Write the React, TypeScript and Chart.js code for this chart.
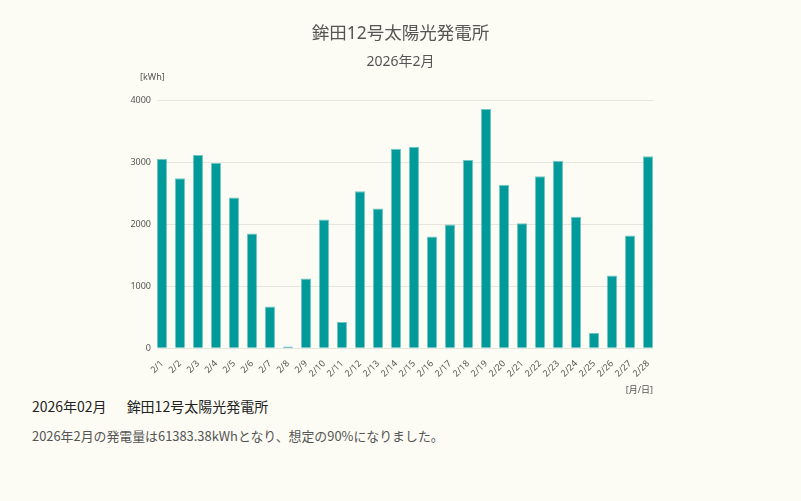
import { useEffect, useRef } from 'react';
import { Chart, registerables } from 'chart.js';

Chart.register(...registerables);

const chartTitle = '鉾田12号太陽光発電所';
const chartSubtitle = '2026年2月';
const dayLabels = [
  '2/1', '2/2', '2/3', '2/4', '2/5', '2/6', '2/7', '2/8', '2/9', '2/10',
  '2/11', '2/12', '2/13', '2/14', '2/15', '2/16', '2/17', '2/18', '2/19', '2/20',
  '2/21', '2/22', '2/23', '2/24', '2/25', '2/26', '2/27', '2/28',
];
const generation = [
  3060, 2747, 3124, 2995, 2435, 1855, 677, 30, 1129, 2081,
  424, 2537, 2258, 3226, 3258, 1806, 2000, 3043, 3866, 2645,
  2021, 2779, 3032, 2124, 247, 1177, 1823, 3102,
];
const yTicks = [0, 1000, 2000, 3000, 4000];
const yUnit = '[kWh]';
const xUnit = '[月/日]';
const summaryMonth = '2026年02月';
const summaryPlant = '鉾田12号太陽光発電所';
const summaryText = '2026年2月の発電量は61383.38kWhとなり、想定の90%になりました。';

const FONT = '"Noto Sans", "Noto Sans CJK JP", sans-serif';

const unitLabelPlugin = {
  id: 'unitLabel',
  afterDraw(chart: any) {
    const { ctx, chartArea } = chart;
    ctx.save();
    ctx.font = `9px ${FONT}`;
    ctx.fillStyle = '#555';
    ctx.textAlign = 'left';
    ctx.textBaseline = 'middle';
    ctx.fillText(yUnit, chartArea.left - 17, chartArea.top - 23);
    ctx.restore();
  },
};

export default function App() {
  const canvasRef = useRef<HTMLCanvasElement | null>(null);

  useEffect(() => {
    document.body.style.background = '#fcfcf4';
    const canvas = canvasRef.current;
    if (!canvas) return;
    Chart.defaults.font.family = FONT;
    const chart = new Chart(canvas, {
      type: 'bar',
      data: {
        datasets: [
          {
            label: chartTitle,
            data: generation.map((y, i) => ({ x: i, y })),
            backgroundColor: '#009a9a',
            borderColor: 'rgba(0,154,154,0.55)',
            borderWidth: 1,
            barPercentage: 0.555,
            categoryPercentage: 1,
            yAxisID: 'y',
          },
        ],
      },
      options: {
        animation: false,
        responsive: true,
        maintainAspectRatio: false,
        layout: { padding: 0 },
        plugins: {
          legend: { display: false },
          tooltip: { enabled: false },
          title: {
            display: true,
            text: chartTitle,
            color: '#555',
            font: { size: 17.5, weight: 'normal' },
            padding: { top: 16, bottom: 8 },
          },
          subtitle: {
            display: true,
            text: chartSubtitle,
            color: '#555',
            font: { size: 14, weight: 'normal' },
            padding: { top: 1, bottom: 30 },
          },
        },
        scales: {
          x: {
            type: 'linear',
            min: -0.277,
            max: dayLabels.length - 1 + 0.277,
            offset: false,
            grid: { display: false },
            border: { display: false },
            afterBuildTicks: (scale: any) => {
              scale.ticks = dayLabels.map((_, i) => ({ value: i }));
            },
            ticks: {
              autoSkip: false,
              maxRotation: 45,
              minRotation: 45,
              color: '#555',
              font: { size: 9 },
              padding: 2,
              callback: (v: any) => dayLabels[Number(v)] ?? '',
            },
            title: {
              display: true,
              text: xUnit,
              align: 'end',
              color: '#555',
              font: { size: 9 },
              padding: { top: 4, bottom: 0 },
            },
          },
          y: {
            position: 'left',
            min: 0,
            max: 4000,
            afterBuildTicks: (scale: any) => {
              scale.ticks = yTicks.map((v) => ({ value: v }));
            },
            afterFit: (scale: any) => {
              scale.width = 149;
            },
            ticks: {
              color: '#555',
              font: { size: 9 },
              padding: 6,
              callback: (v: any) => String(v),
            },
            grid: { color: '#e6e6e1', drawTicks: false },
            border: { display: false },
          },
          yRightSpace: {
            type: 'linear',
            position: 'right',
            display: true,
            grid: { display: false },
            border: { display: false },
            ticks: { display: false },
            afterFit: (scale: any) => {
              scale.width = 140;
            },
          },
        },
      } as any,
      plugins: [unitLabelPlugin],
    });
    return () => chart.destroy();
  }, []);

  return (
    <div>
      <div style={{ position: 'relative', height: 388, width: '100%' }}>
        <canvas ref={canvasRef} />
      </div>
      <div style={{ paddingLeft: 24, fontFamily: '"Noto Sans CJK JP", sans-serif' }}>
        <div style={{ fontSize: 14, lineHeight: '20px', color: '#222' }}>
          {summaryMonth}
          <span style={{ marginLeft: 20 }}>{summaryPlant}</span>
        </div>
        <div style={{ fontSize: 12.9, lineHeight: '20px', color: '#555', marginTop: 10 }}>
          {summaryText}
        </div>
      </div>
    </div>
  );
}
